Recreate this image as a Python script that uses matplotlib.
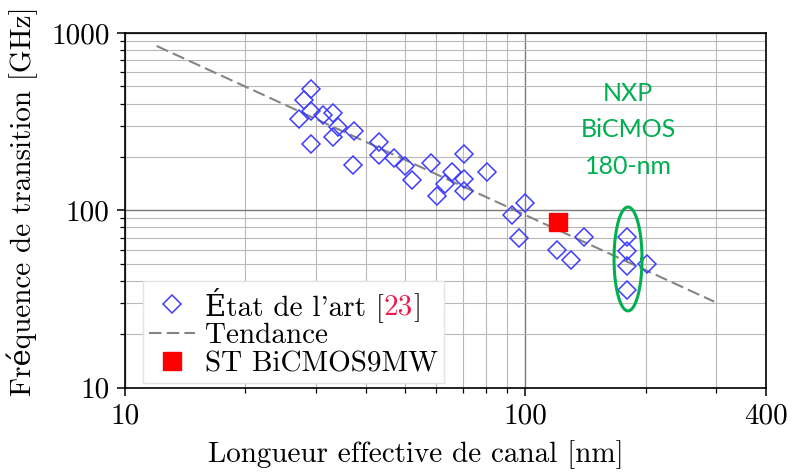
import numpy as np
import matplotlib.pyplot as plt
from matplotlib.ticker import LogLocator, NullFormatter

plt.rcParams['font.family'] = ['cmr10', 'DejaVu Serif']
plt.rcParams['axes.formatter.use_mathtext'] = True
plt.rcParams['font.size'] = 21

# état de l'art : longueur effective de canal [nm] / fT [GHz]
etat_x = [29.2, 28.0, 29.2, 27.2, 31.3, 33.1, 34.1, 37.4, 33.1, 29.2, 37.2,
          43.1, 43.1, 47.0, 50.1, 52.2, 58.2, 65.7, 70.4, 63.1, 60.2, 70.4,
          70.4, 80.3, 99.9, 92.5, 96.6, 140, 120, 130, 180, 180, 180, 180, 202]
etat_y = [484, 419, 364, 326, 345, 354, 295, 281, 260, 237, 179,
          243, 206, 198, 178, 149, 185, 164, 208, 140, 120, 150,
          129, 165, 110, 94, 70, 70.5, 60, 52.6, 70.5, 59, 48.4, 35.7, 50]

# ST BiCMOS9MW
st_x = [120.8]
st_y = [85.6]

# tendance
trend_x = [12, 297]
trend_y = [845, 30.5]

# groupe NXP entouré
nxp_x = 180.8
nxp_y = 53.1
nxp_label_y = 284

xticks = [10, 100, 400]
yticks = [10, 100, 1000]

fig = plt.figure(figsize=(7.92, 4.74), dpi=100)
ax = fig.add_axes([125 / 792, 1 - 387.5 / 474, 641 / 792, 354.5 / 474])
ax.set_xscale('log')
ax.set_yscale('log')
ax.set_xlim(10, 400)
ax.set_ylim(10, 1000)

ax.set_xticks(xticks)
ax.set_xticklabels([str(v) for v in xticks])
ax.set_yticks(yticks)
ax.set_yticklabels([str(v) for v in yticks])
for axis in (ax.xaxis, ax.yaxis):
    axis.set_minor_locator(LogLocator(base=10, subs=np.arange(2, 10)))
    axis.set_minor_formatter(NullFormatter())
ax.tick_params(which='major', direction='out', length=6, width=1.1, pad=5)
ax.tick_params(which='minor', direction='out', length=3.5, width=0.9)
ax.tick_params(top=False, right=False, which='both')
for s in ax.spines.values():
    s.set_linewidth(1.2)

ax.grid(which='major', color='#7a7a7a', lw=1.0)
ax.grid(which='minor', color='#b8b8b8', lw=0.8)
ax.set_axisbelow(True)

h_tr, = ax.plot(trend_x, trend_y, ls=(0, (6, 2.5)), color='#858585', lw=1.5)
h_et, = ax.plot(etat_x, etat_y, ls='none', marker='D', ms=9, mfc='none',
                mec='#3d3dff', mew=1.1)
h_st, = ax.plot(st_x, st_y, ls='none', marker='s', ms=13, color='#ff0000',
                mec='#ff0000')

# ellipse verte autour du groupe NXP (en décades)
t = np.linspace(0, 2 * np.pi, 200)
ax.plot(10 ** (np.log10(nxp_x) + 0.035 * np.cos(t)),
        10 ** (np.log10(nxp_y) + 0.293 * np.sin(t)),
        color='#00b050', lw=2.2)
ax.text(nxp_x, nxp_label_y, 'NXP\nBiCMOS\n180-nm', ha='center', va='center',
        color='#00b050', fontsize=18, family='Lato', linespacing=1.72)

ax.set_xlabel('Longueur effective de canal [nm]')
ax.set_ylabel('Fréquence de transition [GHz]')
ax.xaxis.set_label_coords(0.454, -0.148)
ax.yaxis.set_label_coords(-0.135, 0.525)

leg = ax.legend([h_et, h_tr, h_st],
                ["État de l'art [23]", 'Tendance', 'ST BiCMOS9MW'],
                loc='lower left', bbox_to_anchor=(0.022, 0.0), fontsize=21,
                frameon=True, fancybox=False, edgecolor='#e4e4e4',
                framealpha=1, borderaxespad=0.15, handlelength=1.55,
                handletextpad=0.35, labelspacing=0.05, borderpad=0.2)

# "[23]" avec le 23 en rouge : on redessine la première étiquette par morceaux
fig.canvas.draw()
renderer = fig.canvas.get_renderer()
txt = leg.get_texts()[0]
fp = txt.get_fontproperties()
x0, y0 = txt.get_transform().transform(txt.get_position())
txt.set_visible(False)
xpos = x0
for piece, col in [("État de l'art [", 'black'), ('23', '#ee1c4e'), (']', 'black')]:
    tt = fig.text(xpos, y0, piece, transform=None, color=col, fontproperties=fp,
                  va='baseline', ha='left', zorder=10)
    xpos = tt.get_window_extent(renderer).x1

fig.savefig('out.png', dpi=100)
